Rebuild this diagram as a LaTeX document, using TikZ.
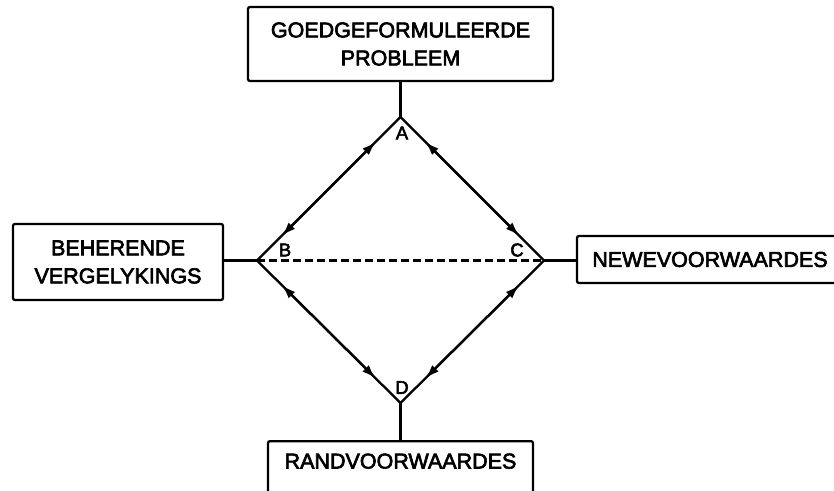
\documentclass[tikz,border=0pt]{standalone}
\usepackage{fontspec}
\setmainfont{Liberation Sans}[BoldFont={Liberation Sans},BoldFeatures={FakeBold=3}]
\usetikzlibrary{arrows.meta}
\begin{document}
\begin{tikzpicture}[x=1pt,y=-1pt,line width=2.3pt,
  every node/.style={font=\fontsize{21.5}{28}\selectfont\bfseries},
  blok/.style={draw,rounded corners=2pt,align=center,inner sep=0pt},
  hoek/.style={font=\fontsize{18.5}{22}\selectfont\bfseries,inner sep=0pt},
  pyl/.style={{Latex[length=14pt,width=9pt]}-{Latex[length=14pt,width=9pt]},shorten <=35pt,shorten >=35pt}]
\clip (0,0) rectangle (834,490);
% the four corners of the diamond
\coordinate (A) at (400.5,117);
\coordinate (B) at (257,260.5);
\coordinate (C) at (544,260.5);
\coordinate (D) at (400.5,403);
% boxes
\node[blok,minimum width=305pt,minimum height=74pt] (prob) at (400.5,44) {GOEDGEFORMULEERDE\\PROBLEEM};
\node[blok,minimum width=210pt,minimum height=76pt] (verg) at (118,262) {BEHERENDE\\VERGELYKINGS};
\node[blok,minimum width=266pt,minimum height=47pt] (newe) at (710,259.5) {NEWEVOORWAARDES};
\node[blok,minimum width=265pt,text height=27.4pt,text depth=24.6pt,anchor=north] (rand) at (400.5,440) {RANDVOORWAARDES};
% corner letters
\node[hoek] (la) at (402,133) {A};
\node[hoek] (lb) at (285,250) {B};
\node[hoek] (lc) at (517,250) {C};
\node[hoek] (ld) at (402,387.5) {D};
% stems to the boxes
\draw (prob) -- (A);
\draw (rand) -- (D);
\draw (B -| verg.east) -- (B);
\draw (C) -- (C -| newe.west);
% sides with arrows at both ends
\foreach \p/\q in {A/B,A/C,D/B,D/C} {
  \draw (\p) -- (\q);
  \draw[pyl] (\p) -- (\q);
}
\draw[dash pattern=on 8pt off 4pt] (B) -- (C);
\end{tikzpicture}
\end{document}
